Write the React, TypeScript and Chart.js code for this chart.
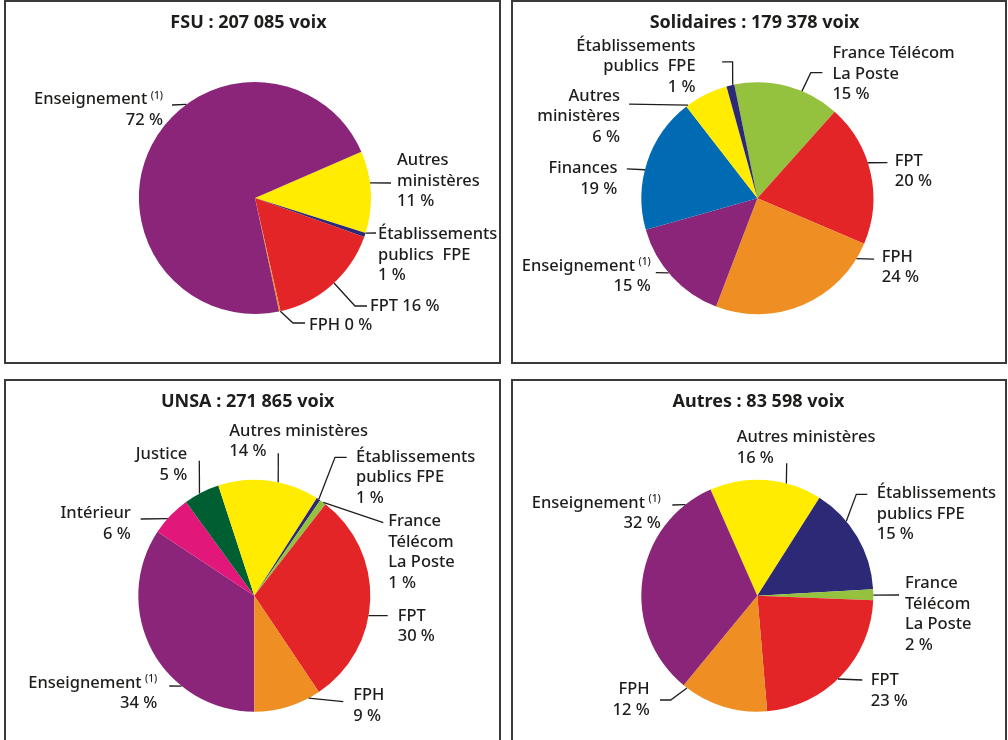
import React, { useEffect, useRef } from "react";
import { Chart, registerables } from "chart.js";

Chart.register(...registerables);

// ---------------- data ----------------
const unions = ["FSU", "Solidaires", "UNSA", "Autres"];
const unionVotes = [207085, 179378, 271865, 83598];

const fsuCategories = ["Autres ministères", "Établissements publics FPE", "FPT", "FPH", "Enseignement"];
const fsuShares = [11.4, 0.6, 16, 0.2, 71.8];

const solidairesCategories = [
  "France Télécom La Poste",
  "FPT",
  "FPH",
  "Enseignement",
  "Finances",
  "Autres ministères",
  "Établissements publics FPE",
];
const solidairesShares = [14.8, 19.8, 24.4, 14.8, 18.9, 6.2, 1.1];

const unsaCategories = [
  "Enseignement",
  "Intérieur",
  "Justice",
  "Autres ministères",
  "Établissements publics FPE",
  "France Télécom La Poste",
  "FPT",
  "FPH",
];
const unsaShares = [34.3, 5.7, 5.0, 14.1, 0.55, 0.9, 30.1, 9.4];

const autresCategories = [
  "Autres ministères",
  "Établissements publics FPE",
  "France Télécom La Poste",
  "FPT",
  "FPH",
  "Enseignement",
];
const autresShares = [15.6, 15.1, 1.5, 23.0, 12.3, 32.4];

const footnotedCategory = "Enseignement";
const footnoteMark = "(1)";

// ---------------- styles ----------------
const categoryColors: Record<string, string> = {
  Enseignement: "#8B2579",
  "Autres ministères": "#FFEC00",
  "Établissements publics FPE": "#2C2A76",
  FPT: "#E32528",
  FPH: "#EF8E22",
  "France Télécom La Poste": "#94C13E",
  Finances: "#006AB2",
  Justice: "#005E33",
  Intérieur: "#E2177A",
};

const FONT = "'Noto Sans', 'Open Sans', sans-serif";
const TEXT = "#1d1d1b";
const LABEL_SIZE = 16.5;
const LABEL_WEIGHT = 500;
const TITLE_SIZE = 18;
const LINE_H = 20.5;
const BORDER = 2;

type LabelLayout = {
  at: number; // degrees, where the leader touches the pie
  path: number[][]; // leader points relative to the pie centre
  x: number;
  y: number;
  align: "left" | "right";
  words?: number[];
  inline?: boolean;
  wide?: boolean;
};

type PanelLayout = {
  categories: string[];
  shares: number[];
  box: { left: number; top: number; width: number; height: number; bottom: boolean };
  center: [number, number];
  radius: number;
  rotation: number;
  title: [number, number];
  labels: LabelLayout[];
};

const panels: PanelLayout[] = [
  {
    categories: fsuCategories,
    shares: fsuShares,
    box: { left: 4, top: 0, width: 497, height: 364, bottom: true },
    center: [255, 198],
    radius: 116,
    rotation: 66.5,
    title: [-6.5, -170],
    labels: [
      { at: -7.5, path: [[136, -15]], x: 142, y: -33, align: "left", words: [1, 1] },
      { at: 17.6, path: [[121, 35]], x: 123, y: 41, align: "left", words: [1, 2], wide: true },
      { at: 47.1, path: [[100, 108], [112, 108]], x: 115, y: 113, align: "left", inline: true },
      { at: 77.4, path: [[38, 125], [50, 125]], x: 54, y: 132, align: "left", inline: true },
      { at: -126.2, path: [[-83, -93]], x: -92, y: -94, align: "right" },
    ],
  },
  {
    categories: solidairesCategories,
    shares: solidairesShares,
    box: { left: 511, top: 0, width: 496, height: 364, bottom: true },
    center: [757.4, 198.2],
    radius: 116,
    rotation: -11.5,
    title: [-2.8, -170.6],
    labels: [
      { at: -67.4, path: [[53.4, -125.6], [65, -125.6]], x: 75, y: -140, align: "left", words: [2, 2] },
      { at: -17.8, path: [[130, -35.6]], x: 137.4, y: -32.3, align: "left" },
      { at: 31.4, path: [[116.7, 61]], x: 124.4, y: 63.4, align: "left" },
      { at: 139.9, path: [[-101.6, 74.4]], x: -106.6, y: 72.7, align: "right" },
      { at: -165.8, path: [[-130.6, -29.3]], x: -140, y: -25, align: "right" },
      { at: -126.7, path: [[-128.3, -94]], x: -137.3, y: -97.6, align: "right", words: [1, 1] },
      { at: -102.3, path: [[-24.8, -136.3], [-35.3, -136.3]], x: -61.8, y: -147.6, align: "right", words: [1, 2], wide: true },
    ],
  },
  {
    categories: unsaCategories,
    shares: unsaShares,
    box: { left: 4, top: 379, width: 497, height: 361, bottom: false },
    center: [254.3, 595.7],
    radius: 116,
    rotation: 180,
    title: [-6.6, -189],
    labels: [
      { at: 128.8, path: [[-85, 90.3]], x: -97, y: 92, align: "right" },
      { at: -138.3, path: [[-113.6, -76.7]], x: -123.6, y: -77.4, align: "right" },
      { at: -118.2, path: [[-55, -135]], x: -67, y: -136.4, align: "right" },
      { at: -78.1, path: [[24, -142.4]], x: -25, y: -160, align: "left", words: [2] },
      { at: -56.2, path: [[80.7, -138.4], [92.4, -138.4]], x: 101.7, y: -134, align: "left", words: [1, 2] },
      { at: -53.5, path: [[129, -73]], x: 134, y: -69.7, align: "left", words: [1, 1, 2] },
      { at: 9.9, path: [[133.4, 20]], x: 143.4, y: 25, align: "left" },
      { at: 62, path: [[89, 106]], x: 99, y: 104.3, align: "left" },
    ],
  },
  {
    categories: autresCategories,
    shares: autresShares,
    box: { left: 511, top: 379, width: 496, height: 361, bottom: false },
    center: [757.3, 595.7],
    radius: 116,
    rotation: -23.8,
    title: [1.2, -189],
    labels: [
      { at: -75.5, path: [[29.4, -132.4]], x: -20.6, y: -153.4, align: "left", words: [2] },
      { at: -39.9, path: [[99, -101.4], [110, -101.4]], x: 119.4, y: -97.4, align: "left", words: [1, 2] },
      { at: -0.3, path: [[141.7, -0.7]], x: 147.7, y: -7.4, align: "left", words: [1, 1, 2] },
      { at: 45.9, path: [[105, 84.3]], x: 113.4, y: 89.3, align: "left" },
      { at: 127.3, path: [[-86.6, 104.3], [-97.3, 104.3]], x: -107.6, y: 98.6, align: "right" },
      { at: -128.3, path: [[-85, -90.7]], x: -96.6, y: -88, align: "right" },
    ],
  },
];

function formatVotes(n: number): string {
  return String(n).replace(/\B(?=(\d{3})+(?!\d))/g, " ");
}

function makeLabelPlugin(index: number) {
  const p = panels[index];
  const labelFont = `${LABEL_WEIGHT} ${LABEL_SIZE}px ${FONT}`;
  const supFont = `${LABEL_WEIGHT} ${LABEL_SIZE * 0.62}px ${FONT}`;
  return {
    id: "pieLabels" + index,
    afterDraw(chart: any) {
      const ctx: CanvasRenderingContext2D = chart.ctx;
      const meta = chart.getDatasetMeta(0);
      const arc: any = meta.data[0];
      const cx = arc.x;
      const cy = arc.y;
      const R = arc.outerRadius;
      ctx.save();
      ctx.fillStyle = TEXT;
      ctx.textBaseline = "alphabetic";
      ctx.font = `bold ${TITLE_SIZE}px ${FONT}`;
      ctx.textAlign = "center";
      ctx.fillText(`${unions[index]} : ${formatVotes(unionVotes[index])} voix`, cx + p.title[0], cy + p.title[1]);

      p.categories.forEach((cat, i) => {
        const L = p.labels[i];
        const a = (L.at * Math.PI) / 180;
        ctx.beginPath();
        ctx.moveTo(cx + R * Math.cos(a), cy + R * Math.sin(a));
        L.path.forEach(([dx, dy]) => ctx.lineTo(cx + dx, cy + dy));
        ctx.lineWidth = 1.3;
        ctx.strokeStyle = TEXT;
        ctx.stroke();

        const words = cat.split(" ");
        const groups = L.words ?? [words.length];
        const lines: string[] = [];
        let k = 0;
        groups.forEach((g) => {
          lines.push(words.slice(k, k + g).join(L.wide ? "  " : " "));
          k += g;
        });
        const pct = `${Math.round(p.shares[i])} %`;
        if (L.inline) lines[lines.length - 1] += " " + pct;
        else lines.push(pct);

        lines.forEach((t, j) => {
          const y = cy + L.y + j * LINE_H;
          const x = cx + L.x;
          ctx.textAlign = L.align;
          if (j === 0 && cat === footnotedCategory) {
            ctx.font = supFont;
            const sw = ctx.measureText(footnoteMark).width;
            if (L.align === "right") {
              ctx.fillText(footnoteMark, x, y - 5.5);
              ctx.font = labelFont;
              ctx.fillText(t, x - sw - 3.5, y);
            } else {
              ctx.font = labelFont;
              const tw = ctx.measureText(t).width;
              ctx.fillText(t, x, y);
              ctx.font = supFont;
              ctx.fillText(footnoteMark, x + tw + 3.5, y - 5.5);
            }
          } else {
            ctx.font = labelFont;
            ctx.fillText(t, x, y);
          }
        });
      });
      ctx.restore();
    },
  };
}

function PiePanel({ index }: { index: number }) {
  const ref = useRef<HTMLCanvasElement>(null);
  const p = panels[index];
  const W = p.box.width - 2 * BORDER;
  const H = p.box.height - (p.box.bottom ? 2 * BORDER : BORDER);

  useEffect(() => {
    const canvas = ref.current;
    if (!canvas) return;
    const cx = p.center[0] - (p.box.left + BORDER);
    const cy = p.center[1] - (p.box.top + BORDER);
    const R = p.radius;
    const chart = new Chart(canvas, {
      type: "pie",
      data: {
        labels: p.categories,
        datasets: [
          {
            data: p.shares,
            backgroundColor: p.categories.map((c) => categoryColors[c]),
            borderWidth: 0,
          },
        ],
      },
      options: {
        responsive: false,
        maintainAspectRatio: false,
        animation: false,
        events: [],
        rotation: p.rotation,
        layout: {
          padding: { left: cx - R, top: cy - R, right: W - cx - R, bottom: H - cy - R },
        },
        plugins: {
          legend: { display: false },
          tooltip: { enabled: false },
          title: { display: false },
        },
      } as any,
      plugins: [makeLabelPlugin(index)],
    });
    return () => chart.destroy();
  }, [index]);

  return (
    <div
      style={{
        position: "absolute",
        left: p.box.left,
        top: p.box.top,
        width: p.box.width,
        height: p.box.height,
        boxSizing: "border-box",
        border: `${BORDER}px solid #3a3a3a`,
        borderBottom: p.box.bottom ? `${BORDER}px solid #3a3a3a` : "none",
        background: "#fff",
      }}
    >
      <canvas ref={ref} width={W} height={H} style={{ display: "block", width: W, height: H }} />
    </div>
  );
}

export default function App() {
  return (
    <div>
      {panels.map((_, i) => (
        <PiePanel key={i} index={i} />
      ))}
    </div>
  );
}
